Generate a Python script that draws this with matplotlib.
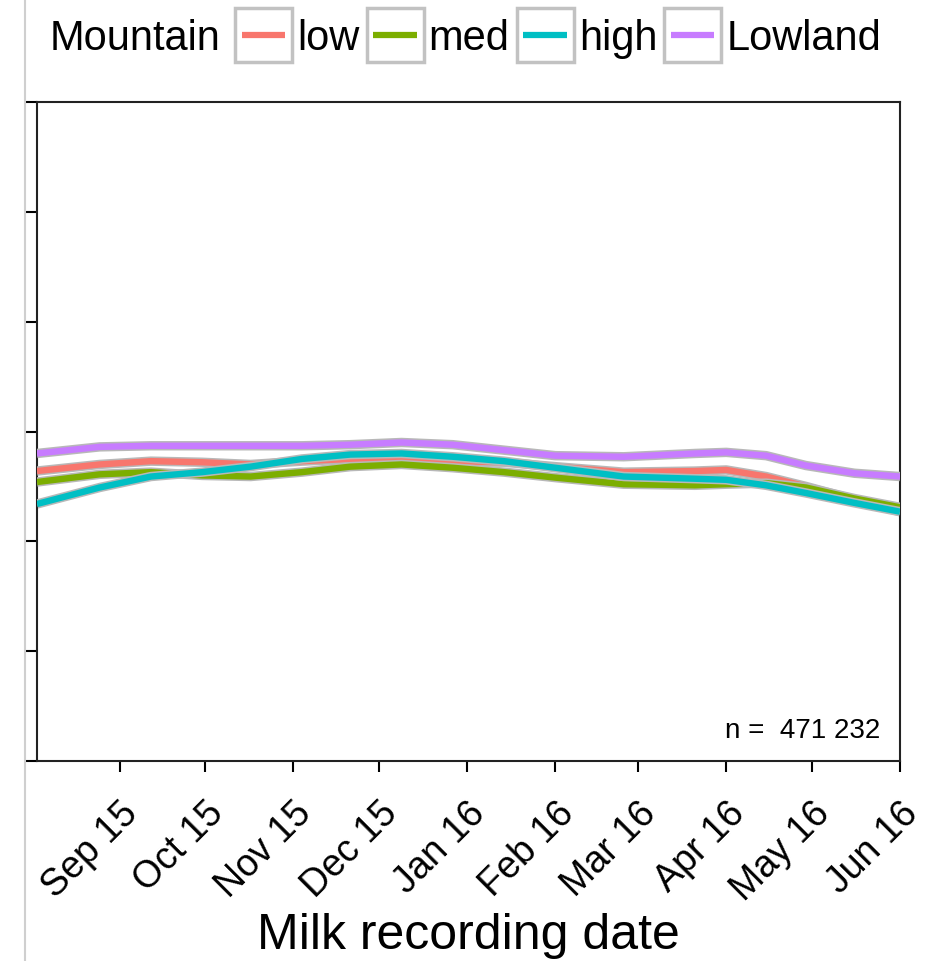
import numpy as np
import pandas as pd
import matplotlib
matplotlib.use("Agg")
import matplotlib.pyplot as plt
import matplotlib.dates as mdates
import matplotlib.patheffects as pe
from matplotlib.patches import Rectangle
from matplotlib.lines import Line2D
from matplotlib.legend_handler import HandlerBase

plt.rcParams['font.family'] = ['Liberation Sans', 'DejaVu Sans']

# Sample dates along the smoothed curves
dates = pd.to_datetime([
    "2015-08-03", "2015-08-25", "2015-09-12", "2015-09-30", "2015-10-17",
    "2015-11-04", "2015-11-21", "2015-12-09", "2015-12-27", "2016-01-14",
    "2016-02-01", "2016-02-25", "2016-03-21", "2016-04-01", "2016-04-15",
    "2016-04-29", "2016-05-16", "2016-06-01",
])

low = [2.64, 2.70, 2.73, 2.72, 2.70, 2.73, 2.75, 2.75, 2.73, 2.72,
       2.68, 2.63, 2.64, 2.65, 2.59, 2.50, 2.38, 2.27]
med = [2.54, 2.61, 2.63, 2.60, 2.59, 2.63, 2.68, 2.70, 2.67, 2.63,
       2.58, 2.52, 2.51, 2.52, 2.53, 2.49, 2.39, 2.31]
high = [2.34, 2.49, 2.59, 2.63, 2.68, 2.75, 2.79, 2.80, 2.77, 2.73,
        2.67, 2.59, 2.57, 2.56, 2.51, 2.44, 2.35, 2.27]
lowland = [2.80, 2.86, 2.87, 2.87, 2.87, 2.87, 2.88, 2.90, 2.88, 2.83,
           2.78, 2.77, 2.80, 2.81, 2.78, 2.69, 2.62, 2.59]

series_names = ["low", "med", "high", "Lowland"]
series_values = [low, med, high, lowland]
colors = ["#F8766D", "#7CAE00", "#00BFC4", "#C77CFF"]

tick_dates = pd.date_range("2015-09-01", "2016-06-01", freq="MS")


class BoxLineHandler(HandlerBase):
    # ggplot-like legend key: grey bordered square with a line inside
    def create_artists(self, legend, orig_handle, xdescent, ydescent,
                       width, height, fontsize, trans):
        x0, y0 = -xdescent, -ydescent
        box = Rectangle((x0, y0), width, height, facecolor="white",
                        edgecolor="#c2c2c2", linewidth=2.5, transform=trans)
        pad = width * 0.12
        ln = Line2D([x0 + pad, x0 + width - pad], [y0 + height / 2] * 2,
                    color=orig_handle.get_color(), linewidth=4.5,
                    solid_capstyle="butt", transform=trans)
        return [box, ln]


fig = plt.figure(figsize=(9.33, 9.62), dpi=100)
ax = fig.add_axes([37/933, 1 - 762/962, 863/933, 659/962])

halo = [pe.Stroke(linewidth=6.8, foreground="#b8b8b8"), pe.Normal()]
lines = []
for name, vals, c in zip(series_names, series_values, colors):
    l, = ax.plot(dates, vals, color=c, linewidth=4.6, solid_capstyle="butt",
                 solid_joinstyle="round", path_effects=halo, zorder=3)
    lines.append(l)

ax.set_xlim(pd.Timestamp("2015-08-03"), pd.Timestamp("2016-06-01"))
ax.set_ylim(0, 6)
ax.set_yticks(range(7))
ax.set_yticklabels([])
ax.set_xticks(tick_dates)
ax.xaxis.set_major_formatter(mdates.DateFormatter("%b %y"))
plt.setp(ax.get_xticklabels(), rotation=45, ha="right", va="top",
         rotation_mode="anchor")
ax.tick_params(axis="x", direction="out", length=8, width=1.5, labelsize=27, pad=16)
ax.tick_params(axis="y", direction="out", length=8, width=1.5)
for s in ax.spines.values():
    s.set_linewidth(1.5)
    s.set_color("#222222")

ax.set_xlabel("Milk recording date", fontsize=36, labelpad=4)
ax.text(0.977, 0.028, "n =  471 232", transform=ax.transAxes,
        ha="right", va="bottom", fontsize=20)

# thin grey frame line at the left edge of the image
fig.add_artist(Line2D([25/933, 25/933], [0, 1], color="#cfcfcf", linewidth=1.5))

# legend: title on the left, keys with grey border boxes
fig.text(50/933, 1 - 39/962, "Mountain", fontsize=30, ha="left", va="center")
fig.legend(lines, series_names, handler_map={Line2D: BoxLineHandler()},
           loc="center left", bbox_to_anchor=(233/933, 1 - 36/962), ncol=4,
           frameon=False, fontsize=30, handlelength=1.37, handleheight=1.65,
           handletextpad=0.12, columnspacing=0.17, borderpad=0.05,
           borderaxespad=0)

fig.savefig("out.png", dpi=100)
